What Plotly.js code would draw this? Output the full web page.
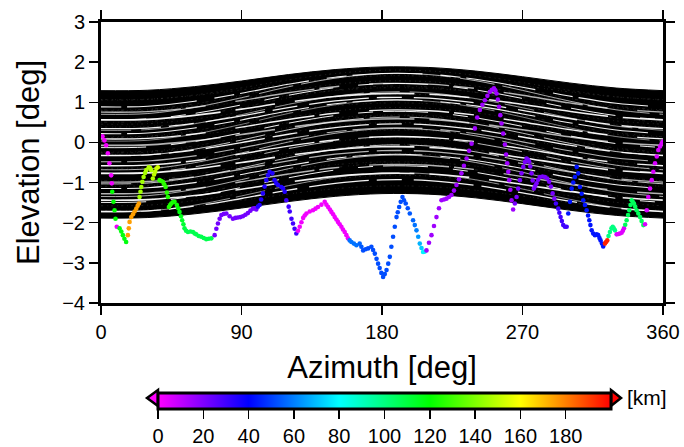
<!DOCTYPE html>
<html>
<head>
<meta charset="utf-8">
<script src="https://cdn.plot.ly/plotly-3.0.1.min.js"></script>
<style>html,body{margin:0;padding:0;background:#fff;}#chart{width:684px;height:447px;}</style>
</head>
<body>
<div id="chart"></div>
<script>
// ---- band of paths (envelope) ----
const bandAz = [0, 30, 60, 90, 120, 150, 180, 210, 240, 270, 300, 330, 360];
const bandTop = [1.29, 1.30, 1.39, 1.53, 1.69, 1.815, 1.88, 1.867, 1.778, 1.637, 1.482, 1.355, 1.29];
const bandBottom = [-1.885, -1.871, -1.779, -1.634, -1.474, -1.343, -1.275, -1.289, -1.381, -1.526, -1.686, -1.817, -1.885];
// relative positions (0 = lower edge, 1 = upper edge) of the white gaps in the band
const streakFrac = [0.08, 0.105, 0.15, 0.17, 0.21, 0.235, 0.27, 0.31, 0.325, 0.36, 0.40, 0.43, 0.445, 0.48, 0.52, 0.545, 0.58, 0.60, 0.64, 0.67, 0.70, 0.73, 0.745, 0.78, 0.82, 0.85, 0.88, 0.91];
const speckleFrac = [0.06, 0.12, 0.19, 0.25, 0.29, 0.34, 0.38, 0.415, 0.46, 0.50, 0.535, 0.565, 0.62, 0.655, 0.685, 0.715, 0.76, 0.80, 0.835, 0.865, 0.895, 0.93, 0.95];

// ---- horizon profile: azimuth [deg], elevation [deg], distance [km] ----
const profAz = [1.0,2.2,3.3,4.4,5.4,6.5,6.9,
 7.2,8.0,8.7,9.3,
 10.1,
 11.9,13.0,14.0,15.0,16.1,
 17.2,17.8,18.3,19.4,20.5,21.5,22.6,23.5,24.3,
 24.7,25.3,25.8,26.5,27.3,28.2,29.0,30.6,31.5,32.2,33.2,34.0,34.7,35.5,36.4,
 37.5,38.5,39.6,40.5,41.4,42.2,42.8,43.5,44.3,45.0,46.0,47.1,48.6,49.5,50.3,51.2,52.0,52.8,53.5,54.5,55.7,57.3,58.9,60.0,61.0,62.6,64.2,65.8,67.4,69.0,70.7,
 72.8,73.9,74.9,76.0,77.1,78.7,80.3,82.4,84.5,86.1,87.7,89.3,90.9,92.5,94.1,95.7,97.3,98.4,99.5,
 100.5,101.6,102.6,103.7,104.8,105.9,107.0,108.0,109.8,111.2,112.3,113.4,115.5,116.6,117.7,
 118.7,120.2,120.9,122.0,123.0,124.0,125.1,
 126.2,127.3,128.4,129.5,130.5,131.6,133.7,135.8,137.4,139.0,141.2,143.3,144.4,145.5,146.6,147.6,148.7,149.7,150.8,151.8,152.9,154.0,155.0,156.1,157.2,158.2,
 159.3,160.4,162.0,163.6,165.7,166.8,167.9,169.5,171.1,173.2,174.3,175.4,176.5,177.5,178.5,179.6,180.7,181.8,182.9,184.0,185.0,186.0,187.1,188.2,189.3,190.1,191.0,192.0,193.1,194.1,195.2,196.5,197.8,199.9,201.0,202.1,203.2,204.2,205.3,206.3,
 207.4,208.5,210.1,211.7,213.3,214.9,216.5,218.1,219.7,221.3,222.9,224.5,226.1,227.7,229.3,230.9,232.5,234.2,235.8,237.4,239.5,241.0,242.7,244.3,245.9,247.5,249.1,250.4,251.7,252.6,253.4,254.2,255.0,255.8,256.6,257.6,258.7,259.5,260.2,260.9,261.5,262.2,263.0,264.0,
 265.1,266.2,267.2,268.3,269.4,270.5,271.5,272.6,273.5,274.3,275.0,275.8,276.5,277.3,278.2,279.0,280.0,281.1,282.8,284.4,285.8,287.1,288.2,289.3,290.4,
 291.4,292.9,293.6,294.4,295.2,296.1,297.2,298.3,
 299.3,300.4,301.5,302.5,303.6,304.7,305.7,306.8,307.9,308.9,310.0,311.1,312.0,312.8,313.5,314.3,315.3,316.4,317.5,318.5,319.3,320.0,320.9,321.7,
 322.8,323.5,324.3,
 325.1,326.0,327.0,327.8,328.5,329.2,
 330.3,331.4,332.4,333.5,334.3,335.0,
 335.8,336.7,337.6,338.4,339.2,339.9,340.6,341.4,342.2,343.1,344.2,345.3,346.3,347.4,
 348.5,349.6,350.6,351.7,352.8,353.8,354.9,356.0,357.0,358.1,359.2,360.0];
const profEl = [0.15,0.05,-0.07,-0.27,-0.52,-0.82,-1.02,
 -1.23,-1.48,-1.69,-1.90,
 -2.10,
 -2.14,-2.22,-2.31,-2.40,-2.48,
 -2.31,-2.14,-1.98,-1.86,-1.79,-1.72,-1.65,-1.58,-1.52,
 -1.36,-1.23,-1.11,-0.98,-0.86,-0.76,-0.69,-0.62,-0.64,-0.69,-0.90,-0.80,-0.73,-0.65,-0.62,
 -0.94,-0.96,-0.98,-1.04,-1.11,-1.25,-1.36,-1.61,-1.56,-1.52,-1.49,-1.48,-1.56,-1.64,-1.73,-1.84,-1.94,-2.04,-2.14,-2.20,-2.23,-2.22,-2.23,-2.27,-2.29,-2.33,-2.35,-2.38,-2.41,-2.40,-2.39,
 -2.31,-2.15,-2.02,-1.90,-1.81,-1.78,-1.77,-1.84,-1.90,-1.88,-1.87,-1.86,-1.84,-1.80,-1.76,-1.70,-1.65,-1.64,-1.67,
 -1.60,-1.56,-1.42,-1.27,-1.10,-0.94,-0.82,-0.73,-0.77,-0.94,-1.02,-1.06,-1.11,-1.14,-1.23,
 -1.44,-1.60,-1.72,-1.90,-2.02,-2.15,-2.27,
 -2.20,-2.10,-1.99,-1.88,-1.82,-1.77,-1.72,-1.69,-1.65,-1.61,-1.55,-1.48,-1.55,-1.61,-1.67,-1.73,-1.79,-1.86,-1.92,-1.98,-2.04,-2.10,-2.17,-2.23,-2.31,-2.39,
 -2.44,-2.48,-2.52,-2.56,-2.52,-2.60,-2.69,-2.66,-2.64,-2.60,-2.68,-2.77,-2.90,-3.02,-3.13,-3.25,-3.35,-3.28,-3.18,-3.02,-2.85,-2.60,-2.35,-2.10,-1.86,-1.74,-1.61,-1.48,-1.36,-1.44,-1.52,-1.64,-1.77,-1.94,-2.06,-2.19,-2.35,-2.52,-2.63,-2.73,
 -2.72,-2.69,-2.50,-2.31,-2.08,-1.86,-1.64,-1.44,-1.42,-1.40,-1.36,-1.31,-1.20,-1.06,-0.92,-0.77,-0.58,-0.40,-0.21,-0.03,0.35,0.62,0.81,0.94,1.05,1.16,1.26,1.31,1.35,1.30,1.22,1.07,0.89,0.68,0.47,0.22,-0.05,-0.30,-0.52,-0.73,-0.94,-1.18,-1.44,-1.67,
 -1.52,-1.36,-1.15,-0.94,-0.77,-0.61,-0.49,-0.40,-0.43,-0.48,-0.60,-0.77,-0.95,-1.15,-1.08,-1.02,-0.93,-0.86,-0.85,-0.86,-0.90,-0.98,-1.10,-1.27,-1.40,
 -1.52,-1.65,-1.75,-1.86,-1.96,-2.06,-2.10,-2.10,
 -1.77,-1.48,-1.15,-1.00,-0.86,-0.61,-0.77,-1.11,-1.28,-1.44,-1.56,-1.69,-1.82,-1.94,-2.06,-2.19,-2.27,-2.31,-2.29,-2.31,-2.38,-2.44,-2.52,-2.59,
 -2.52,-2.48,-2.44,
 -2.33,-2.23,-2.14,-2.10,-2.14,-2.19,
 -2.29,-2.28,-2.27,-2.25,-2.20,-2.14,
 -2.05,-1.94,-1.81,-1.69,-1.56,-1.44,-1.48,-1.52,-1.60,-1.69,-1.77,-1.86,-1.96,-2.06,
 -2.04,-1.69,-1.36,-1.15,-0.94,-0.73,-0.52,-0.35,-0.19,-0.10,-0.02,0.02];
const profDist = [2,2,2,2,2,2,2,
 120,120,120,120,
 3,
 118,118,118,118,118,
 175,175,175,175,175,175,175,175,175,
 145,145,145,145,146,146,147,148,148,148,148,150,150,152,153,
 128,128,127,127,126,126,125,125,125,124,124,123,122,120,118,116,114,112,110,109,108,108,108,108,108,108,108,108,108,108,108,
 22,22,22,22,22,22,22,22,22,22,22,22,22,22,22,22,22,22,22,
 35,35,35,35,35,35,35,35,35,35,35,35,35,35,35,
 30,30,30,30,30,30,30,
 2,2,2,2,2,2,2,2,2,2,2,2,2,2,2,2,2,2,2,2,2,2,2,2,2,2,
 58,58,58,58,56,54,52,52,52,52,52,52,52,52,52,52,52,52,52,52,52,52,52,52,52,52,52,52,52,52,52,52,54,56,58,60,64,68,72,78,
 78,15,15,15,15,15,15,15,15,15,15,15,15,15,15,15,15,15,15,15,15,15,15,15,15,15,15,15,15,15,15,15,15,15,15,15,15,15,15,15,15,15,15,15,
 21,21,21,21,21,21,21,21,21,21,21,21,21,21,21,21,21,21,21,21,21,21,21,21,21,
 30,30,30,30,30,30,30,30,
 43,43,43,43,43,43,43,43,43,43,43,43,43,43,43,43,43,43,43,43,43,43,43,43,
 195,195,195,
 100,100,100,100,100,100,
 5,5,5,5,5,5,
 106,106,106,106,106,106,106,106,106,106,106,106,106,106,
 6,6,6,6,6,6,6,6,6,6,6,6];

// ---- colour bar ----
const distTicks = [0, 20, 40, 60, 80, 100, 120, 140, 160, 180];
const distMin = 0, distMax = 200;
const rainbow = [[0, '#ff00ff'], [0.2, '#0000ff'], [0.4, '#00ffff'], [0.6, '#00ff00'], [0.8, '#ffff00'], [1, '#ff0000']];

const FONT = 'Liberation Sans, Arial, Helvetica, sans-serif';
const traces = [];

// band: filled black area between envelopes
traces.push({x: bandAz, y: bandTop, mode: 'lines', line: {color: 'black', width: 1, shape: 'spline'}, hoverinfo: 'skip', showlegend: false});
traces.push({x: bandAz, y: bandBottom, mode: 'lines', fill: 'tonexty', fillcolor: 'black', line: {color: 'black', width: 1, shape: 'spline'}, hoverinfo: 'skip', showlegend: false});

const centreDev = bandAz.map((a, k) => (bandTop[k] + bandBottom[k]) / 2);
function gapLine(f, tilt) {
  return bandAz.map((a, k) => bandBottom[k] + f * (bandTop[k] - bandBottom[k]) + (tilt - 1) * centreDev[k]);
}

// faint speckle between paths
const speckDash = ['1px,3px,2px,5px,1px,2px', '2px,4px,1px,3px', '1px,2px,3px,6px,1px,4px'];
speckleFrac.forEach((f, i) => {
  traces.push({x: bandAz, y: gapLine(f, 1 + 0.25 * (i % 3)), mode: 'lines', hoverinfo: 'skip', showlegend: false,
    line: {color: 'rgba(255,255,255,0.2)', width: 0.6, dash: speckDash[i % speckDash.length], shape: 'spline'}});
});

// white gaps between the individual paths
const dashes = ['60px,8px,25px,12px', '30px,10px,90px,6px', '120px,15px,40px,20px', '45px,25px,15px,10px', '80px,5px,20px,30px', '150px,10px,35px,8px', '20px,6px,70px,18px'];
const widths = [1.3, 0.8, 1.6, 1.0, 1.4, 0.7, 1.1];
const tilts = [1.3, 1.6, 1.1, 1.5, 1.2, 1.7, 1.4];
streakFrac.forEach((f, i) => {
  traces.push({x: bandAz, y: gapLine(f, tilts[i % tilts.length]), mode: 'lines', hoverinfo: 'skip', showlegend: false,
    line: {color: i % 3 === 1 ? 'rgba(255,255,255,0.7)' : 'rgba(255,255,255,0.95)', width: widths[i % widths.length], dash: dashes[i % dashes.length], shape: 'spline'}});
});

// horizon profile coloured by distance
traces.push({
  x: profAz, y: profEl, mode: 'markers', hoverinfo: 'skip', showlegend: false,
  marker: {
    size: 4.6, color: profDist, cmin: distMin, cmax: distMax, colorscale: rainbow, showscale: true, line: {width: 0},
    colorbar: {
      orientation: 'h', x: 0.5045, xanchor: 'center', y: -0.4195, yanchor: 'middle',
      len: 453, lenmode: 'pixels', thickness: 16, thicknessmode: 'pixels',
      outlinewidth: 3, outlinecolor: 'black', xpad: 0, ypad: 0,
      tickmode: 'array', tickvals: distTicks, ticktext: distTicks.map(String),
      ticks: 'outside', ticklen: 9, tickwidth: 1.5, tickcolor: 'black',
      tickfont: {family: FONT, size: 20, color: 'black'}
    }
  }
});

const layout = {
  width: 684, height: 447,
  margin: {l: 101, r: 21, t: 22, b: 144, pad: 0, autoexpand: false},
  paper_bgcolor: 'white', plot_bgcolor: 'white',
  font: {family: FONT, size: 20, color: 'black'},
  xaxis: {
    range: [0, 360], tickmode: 'array', tickvals: [0, 90, 180, 270, 360], automargin: false,
    showgrid: false, zeroline: false, showline: true, linewidth: 3, linecolor: 'black', mirror: 'ticks',
    ticks: 'outside', ticklen: 9, tickwidth: 1.5, tickcolor: 'black',
    tickfont: {family: FONT, size: 20, color: 'black'},
    title: {text: 'Azimuth [deg]', font: {family: FONT, size: 31, color: 'black'}, standoff: 15}
  },
  yaxis: {
    range: [-4, 3], tickmode: 'array', tickvals: [-4, -3, -2, -1, 0, 1, 2, 3], automargin: false,
    showgrid: false, zeroline: false, showline: true, linewidth: 3, linecolor: 'black', mirror: 'ticks',
    ticks: 'outside', ticklen: 9, tickwidth: 1.5, tickcolor: 'black',
    tickfont: {family: FONT, size: 20, color: 'black'},
    title: {text: 'Elevation [deg]', font: {family: FONT, size: 31, color: 'black'}, standoff: 14}
  },
  shapes: [
    {type: 'path', xref: 'paper', yref: 'paper', path: 'M 0.1014 -0.3096 L 0.0819 -0.3381 L 0.1014 -0.3665 Z', fillcolor: '#ff00ff', line: {color: 'black', width: 2.5}},
    {type: 'path', xref: 'paper', yref: 'paper', path: 'M 0.9075 -0.3096 L 0.9253 -0.3381 L 0.9075 -0.3665 Z', fillcolor: '#ff0000', line: {color: 'black', width: 2.5}}
  ],
  annotations: [
    {text: '[km]', xref: 'paper', yref: 'paper', x: 0.972, y: -0.338, xanchor: 'center', yanchor: 'middle', showarrow: false, font: {family: FONT, size: 21, color: 'black'}}
  ]
};

Plotly.newPlot('chart', traces, layout, {staticPlot: true, displayModeBar: false});
</script>
</body>
</html>
